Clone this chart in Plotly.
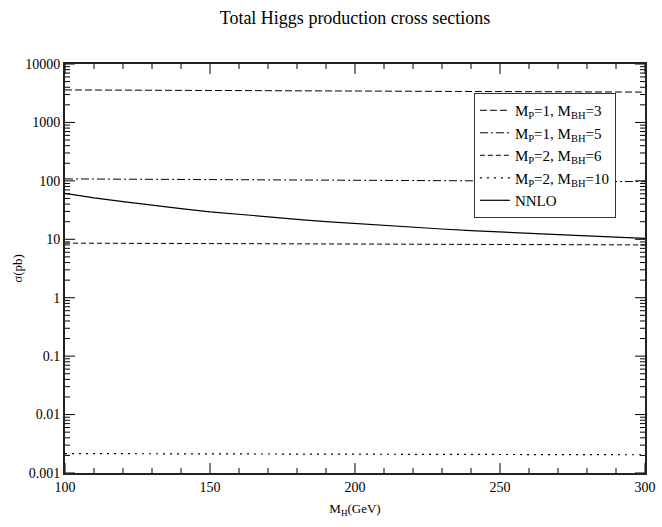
import math
import plotly.graph_objects as go

mh = [100, 110, 120, 130, 140, 150, 160, 170, 180, 190, 200,
      210, 220, 230, 240, 250, 260, 270, 280, 290, 300]
nnlo = [61, 51, 44, 38, 33.5, 29.5, 26.5, 24, 22, 20, 18.5,
        17.2, 16, 15, 14.1, 13.3, 12.6, 12, 11.4, 10.9, 10.4]
mh_ends = [100, 300]
mp1_mbh3 = [3600, 3300]
mp1_mbh5 = [108, 97]
mp2_mbh6 = [8.6, 8.0]
mp2_mbh10 = [0.00215, 0.00205]

ytick_vals = [0.001, 0.01, 0.1, 1, 10, 100, 1000, 10000]
ytick_text = ["0.001", "0.01", "0.1", "1", "10", "100", "1000", "10000"]
xtick_vals = [100, 150, 200, 250, 300]
xminor_vals = [110, 120, 130, 140, 160, 170, 180, 190, 210, 220, 230, 240, 260, 270, 280, 290]
yminor_vals = [m * 10 ** e for e in range(-3, 4) for m in range(2, 10)]

W, H = 662, 527
ML, MR, MT, MB = 65, 17, 64, 54
XR = [100, 300]
YR = [-3, 4]

font_fam = "Liberation Serif, Times New Roman, serif"

fig = go.Figure()
fig.add_trace(go.Scatter(x=mh_ends, y=mp1_mbh3, mode="lines",
                         name="M<sub>P</sub>=1, M<sub>BH</sub>=3",
                         line=dict(color="black", width=1, dash="7px,3px")))
fig.add_trace(go.Scatter(x=mh_ends, y=mp1_mbh5, mode="lines",
                         name="M<sub>P</sub>=1, M<sub>BH</sub>=5",
                         line=dict(color="black", width=1, dash="8px,3px,2px,3px")))
fig.add_trace(go.Scatter(x=mh_ends, y=mp2_mbh6, mode="lines",
                         name="M<sub>P</sub>=2, M<sub>BH</sub>=6",
                         line=dict(color="black", width=1, dash="5px,3px")))
fig.add_trace(go.Scatter(x=mh_ends, y=mp2_mbh10, mode="lines",
                         name="M<sub>P</sub>=2, M<sub>BH</sub>=10",
                         line=dict(color="black", width=1.2, dash="2px,5px")))
fig.add_trace(go.Scatter(x=mh, y=nnlo, mode="lines", name="NNLO",
                         line=dict(color="black", width=1.2)))

# Inside tick marks on all four sides, built from the tick lists and axis ranges
x_per_px = (XR[1] - XR[0]) / (W - ML - MR)
dec_per_px = (YR[1] - YR[0]) / (H - MT - MB)
ylo, yhi = 10 ** YR[0], 10 ** YR[1]
tx, ty = [], []
for vals, length in ((xtick_vals, 10), (xminor_vals, 5)):
    f = 10 ** (length * dec_per_px)
    for v in vals:
        tx += [v, v, None, v, v, None]
        ty += [ylo, ylo * f, None, yhi, yhi / f, None]
for vals, length in ((ytick_vals, 10), (yminor_vals, 5)):
    d = length * x_per_px
    for v in vals:
        tx += [XR[0], XR[0] + d, None, XR[1], XR[1] - d, None]
        ty += [v, v, None, v, v, None]
fig.add_trace(go.Scatter(x=tx, y=ty, mode="lines", showlegend=False, hoverinfo="skip",
                         line=dict(color="black", width=1), connectgaps=False))

fig.update_layout(
    width=W, height=H,
    margin=dict(l=ML, r=MR, t=MT, b=MB, autoexpand=False),
    paper_bgcolor="white", plot_bgcolor="white",
    font=dict(family=font_fam, size=14, color="black"),
    title=dict(text="Total Higgs production cross sections", x=0.5, xanchor="center",
               xref="paper", yref="container", y=1 - 18 / 527, yanchor="middle",
               font=dict(size=18, family=font_fam)),
    showlegend=True,
    legend=dict(x=0.705, y=0.929, xanchor="left", yanchor="top",
                bordercolor="#333", borderwidth=1, bgcolor="white",
                font=dict(size=15, family=font_fam), tracegroupgap=0,
                itemwidth=30),
    xaxis=dict(range=XR, tickmode="array", tickvals=xtick_vals,
               ticks="", showline=True, linecolor="#222", linewidth=2, mirror=True,
               showgrid=False, zeroline=False, automargin=False,
               title=dict(text="M<sub>H</sub>(GeV)", font=dict(size=13), standoff=10),
               tickfont=dict(size=14)),
    yaxis=dict(type="log", range=YR, tickmode="array", tickvals=ytick_vals,
               ticktext=ytick_text, ticks="", showline=True, linecolor="#222",
               linewidth=2, mirror=True, showgrid=False, zeroline=False,
               automargin=False,
               title=dict(text="σ(pb)", font=dict(size=13), standoff=0),
               tickfont=dict(size=14)),
)

fig.write_html("out.html", config={"displayModeBar": False},
               post_script="document.body.style.margin='0';document.body.style.padding='0';")
